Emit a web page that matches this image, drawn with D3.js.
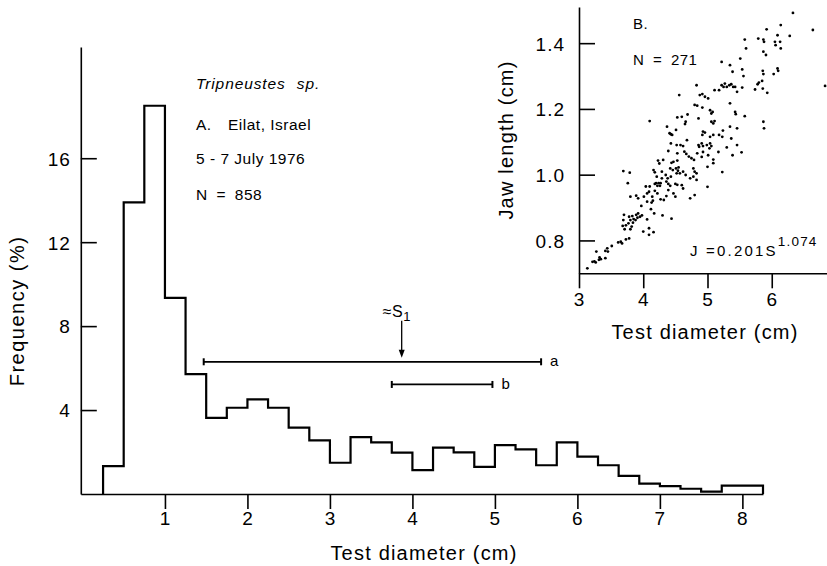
<!DOCTYPE html>
<html>
<head>
<meta charset="utf-8">
<script src="https://cdn.jsdelivr.net/npm/d3@7"></script>
<style>
  body { margin: 0; background: #fff; }
  svg { display: block; font-family: 'Liberation Sans', Arial, sans-serif; }
  .axis path, .axis line { stroke: #000; stroke-width: 1.6; }
  .axis text { font-size: 19px; fill: #000; letter-spacing: 1px; font-family: 'Liberation Sans', Arial, sans-serif; }
  .label { font-size: 20px; letter-spacing: 1.2px; }
  .note { font-size: 15.5px; letter-spacing: 0.5px; }
</style>
</head>
<body>
<div id="chart"></div>
<script>
// A. size frequency histogram (0.25 cm bins)
const binLeft = [0.25, 0.5, 0.75, 1.0, 1.25, 1.5, 1.75, 2.0, 2.25, 2.5, 2.75, 3.0, 3.25, 3.5, 3.75, 4.0,
  4.25, 4.5, 4.75, 5.0, 5.25, 5.5, 5.75, 6.0, 6.25, 6.5, 6.75, 7.0, 7.25, 7.5, 7.75, 8.0];
const freq = [1.33, 13.9, 18.5, 9.35, 5.71, 3.63, 4.11, 4.51, 4.11, 3.16, 2.56, 1.49, 2.71, 2.46, 1.97, 1.14,
  2.21, 1.98, 1.29, 2.33, 2.13, 1.37, 2.46, 1.78, 1.37, 0.86, 0.49, 0.38, 0.25, 0.11, 0.40, 0.40];
const binWidth = 0.25;
const mainXTicks = [1, 2, 3, 4, 5, 6, 7, 8];
const mainYTicks = [4, 8, 12, 16];

// size ranges a and b, S1 marker
const rangeA = [1.47, 5.56];
const rangeB = [3.75, 4.97];
const s1 = 3.87;

// B. jaw length vs test diameter
const testDiam = [
  3.76, 4.04, 4.10, 4.18, 4.20, 4.24, 4.27, 4.22, 4.26, 4.36, 4.39, 4.42, 4.50, 4.53, 3.80, 3.89,
  3.92, 4.01, 4.06, 4.09, 4.14, 4.15, 4.18, 4.22, 4.27, 4.32, 4.36, 4.39, 4.47, 4.50, 3.97, 4.06,
  4.13, 4.12, 4.17, 4.30, 4.44, 3.70, 3.78, 3.83, 3.85, 3.89, 3.92, 3.95, 3.98, 3.69, 3.73, 3.77,
  3.80, 3.84, 3.88, 3.91, 4.06, 3.68, 3.71, 3.80, 3.82, 3.78, 4.00, 4.09, 4.09, 4.16, 3.61, 3.65,
  3.67, 3.73, 3.51, 3.44, 3.41, 3.45, 3.27, 3.32, 3.34, 3.31, 3.41, 3.21, 3.24, 3.26, 3.13,
  4.10, 4.53, 4.60, 4.69, 4.66, 4.65, 4.37, 4.51, 4.41, 4.43, 4.45, 4.86, 4.43, 4.52, 4.58, 4.62,
  4.68, 4.39, 4.53, 4.64, 4.67, 4.71, 4.75, 4.79, 4.86, 4.84, 4.23, 4.31, 4.25, 4.44, 4.47, 4.53,
  3.69, 3.79, 4.16, 4.18, 4.29, 4.42, 4.46, 4.51, 4.54, 4.57, 4.52, 4.55, 4.62, 4.66, 4.78, 4.80,
  4.83, 4.35, 4.21, 4.29, 4.38, 4.43, 4.73, 4.78, 4.83, 4.60, 4.62, 4.73, 4.80, 5.00,
  5.22, 5.35, 5.39, 5.54, 5.56, 4.83, 5.22, 5.27, 5.25, 5.30, 5.34, 5.37, 5.40, 5.43, 5.11, 5.18,
  5.46, 5.54, 4.56, 4.88, 4.92, 4.96, 5.01, 5.35, 4.80, 4.84, 4.92, 5.04, 5.08, 5.06, 5.43, 5.44,
  5.06, 5.09, 5.11, 5.35, 5.46, 4.93, 4.92, 4.96, 5.24, 5.18, 5.23, 5.04, 5.09, 5.37, 4.91, 4.87,
  4.93, 4.99, 5.04, 5.06, 5.03, 5.30, 4.93, 5.01, 5.17, 5.39, 4.91, 5.09, 5.53, 5.23, 5.09, 5.00,
  6.33, 6.64, 6.14, 5.92, 6.09, 6.28, 5.58, 5.79, 5.87, 5.88, 6.05, 6.06, 6.13, 6.14, 5.60, 5.87,
  5.91, 5.51, 5.86, 5.87, 6.09, 6.10, 6.03, 6.83, 5.85, 5.78, 5.80, 5.86, 5.74, 5.93,
  5.58, 5.87, 5.88, 5.46
];
const jawLen = [
  0.974, 0.964, 0.964, 0.972, 0.974, 0.974, 0.974, 0.966, 0.966, 0.979, 0.972, 0.966, 0.972, 0.969, 0.933, 0.936,
  0.928, 0.933, 0.943, 0.948, 0.933, 0.921, 0.951, 0.943, 0.925, 0.923, 0.935, 0.953, 0.943, 0.933, 0.905, 0.918,
  0.915, 0.895, 0.882, 0.876, 0.866, 0.878, 0.872, 0.874, 0.865, 0.878, 0.882, 0.872, 0.876, 0.862, 0.846, 0.852,
  0.862, 0.854, 0.862, 0.869, 0.864, 0.844, 0.834, 0.834, 0.842, 0.806, 0.827, 0.837, 0.817, 0.825, 0.794, 0.796,
  0.791, 0.803, 0.783, 0.776, 0.768, 0.766, 0.766, 0.748, 0.743, 0.741, 0.746, 0.735, 0.736, 0.733, 0.715,
  1.163, 1.174, 1.176, 1.183, 1.161, 1.154, 1.146, 1.136, 1.126, 1.123, 1.121, 1.171, 1.095, 1.090, 1.090, 1.087,
  1.105, 1.072, 1.065, 1.070, 1.063, 1.055, 1.050, 1.045, 1.090, 1.065, 1.043, 1.045, 1.034, 1.036, 1.039, 1.043,
  1.011, 1.006, 1.014, 1.007, 1.009, 1.019, 1.014, 1.019, 1.012, 1.004, 1.004, 1.022, 1.009, 0.999, 1.019, 1.009,
  1.004, 0.999, 0.994, 0.989, 0.989, 0.994, 0.989, 0.994, 0.984, 0.968, 0.958, 0.928, 0.938, 0.963,
  1.343, 1.333, 1.313, 1.320, 1.300, 1.272, 1.272, 1.277, 1.267, 1.267, 1.272, 1.275, 1.267, 1.267, 1.257, 1.257,
  1.252, 1.265, 1.242, 1.242, 1.245, 1.237, 1.232, 1.217, 1.212, 1.210, 1.204, 1.196, 1.191, 1.186, 1.191, 1.184,
  1.161, 1.156, 1.163, 1.146, 1.141, 1.131, 1.121, 1.128, 1.134, 1.121, 1.115, 1.115, 1.121, 1.110, 1.095, 1.085,
  1.087, 1.090, 1.095, 1.087, 1.080, 1.083, 1.069, 1.059, 1.069, 1.059, 1.054, 1.046, 1.068, 1.008, 1.035, 1.024,
  1.492, 1.440, 1.455, 1.442, 1.424, 1.422, 1.411, 1.414, 1.411, 1.404, 1.404, 1.394, 1.404, 1.384, 1.384, 1.374,
  1.364, 1.353, 1.316, 1.306, 1.323, 1.316, 1.306, 1.270, 1.285, 1.275, 1.280, 1.262, 1.259, 1.249,
  1.178, 1.161, 1.141, 1.090
];
const insetXTicks = [3, 4, 5, 6];
const insetYTicks = [0.8, 1.0, 1.2, 1.4];

const width = 827;
const height = 566;

const svg = d3.select('#chart').append('svg')
  .attr('width', width).attr('height', height)
  .attr('viewBox', `0 0 ${width} ${height}`);

function renderHistogram() {
  const x = d3.scaleLinear().domain([-0.02, 8.25]).range([80.8, 763]);
  const y = d3.scaleLinear().domain([0, 21.3]).range([494, 47]);

  const xAxis = d3.axisBottom(x).tickValues(mainXTicks).tickFormat(d3.format('d'))
    .tickSize(15).tickSizeOuter(0).tickPadding(3);
  svg.append('g').attr('class', 'axis').attr('transform', `translate(0,${y(0)})`).call(xAxis);

  const yAxis = d3.axisLeft(y).tickValues(mainYTicks).tickFormat(d3.format('d'))
    .tickSizeInner(-16).tickSizeOuter(0).tickPadding(10);
  const gy = svg.append('g').attr('class', 'axis').attr('transform', `translate(${x(-0.02)},0)`).call(yAxis);
  gy.selectAll('text').attr('dy', '0.36em');

  // step outline
  const pts = [[binLeft[0], 0]];
  binLeft.forEach((b, i) => pts.push([b, freq[i]]));
  const lastEdge = binLeft[binLeft.length - 1] + binWidth;
  pts.push([lastEdge, 0]);
  const step = d3.line().x(d => x(d[0])).y(d => y(d[1])).curve(d3.curveStepAfter);
  svg.append('path').attr('d', step(pts))
    .attr('fill', 'none').attr('stroke', '#000').attr('stroke-width', 2.2);

  // size ranges
  const bars = [
    {range: rangeA, level: 6.3, name: 'a'},
    {range: rangeB, level: 5.22, name: 'b'}
  ];
  bars.forEach(b => {
    const g = svg.append('g').attr('stroke', '#000');
    const yy = y(b.level);
    g.append('line').attr('x1', x(b.range[0])).attr('x2', x(b.range[1]))
      .attr('y1', yy).attr('y2', yy).attr('stroke-width', 1.8);
    b.range.forEach(v => {
      g.append('line').attr('x1', x(v)).attr('x2', x(v))
        .attr('y1', yy - 3.5).attr('y2', yy + 3.5).attr('stroke-width', 2);
    });
    svg.append('text').attr('x', x(b.range[1]) + 9).attr('y', yy + 4.5)
      .attr('font-size', 15).text(b.name);
  });

  // S1 arrow
  const tipY = y(6.3) - 5;
  svg.append('line').attr('x1', x(s1)).attr('x2', x(s1))
    .attr('y1', tipY - 36).attr('y2', tipY - 5).attr('stroke', '#000').attr('stroke-width', 1.3);
  svg.append('path')
    .attr('d', `M${x(s1) - 3},${tipY - 7}L${x(s1) + 3},${tipY - 7}L${x(s1)},${tipY + 1}Z`)
    .attr('fill', '#000');
  const s1t = svg.append('text').attr('x', x(s1) - 19).attr('y', tipY - 40)
    .attr('font-size', 16).style('letter-spacing', '0.5px');
  s1t.append('tspan').text('\u2248S');
  s1t.append('tspan').attr('dy', 4).attr('font-size', 13).text('1');

  // labels
  svg.append('text').attr('class', 'label')
    .attr('x', 424).attr('y', 560).attr('text-anchor', 'middle').text('Test diameter (cm)');
  svg.append('text').attr('class', 'label')
    .attr('transform', 'translate(24,311) rotate(-90)').attr('text-anchor', 'middle')
    .style('letter-spacing', '1.5px').text('Frequency (%)');

  const t = svg.append('text').attr('class', 'note').attr('x', 196).attr('y', 89)
    .attr('font-style', 'italic').style('letter-spacing', '0.9px');
  t.append('tspan').text('Tripneustes');
  t.append('tspan').attr('dx', 11).text('sp.');
  const a = svg.append('text').attr('class', 'note').attr('x', 196).attr('y', 129.5);
  a.append('tspan').text('A.');
  a.append('tspan').attr('x', 228).text('Eilat, Israel');
  svg.append('text').attr('class', 'note').attr('x', 196).attr('y', 163.5).text('5 - 7 July 1976');
  svg.append('text').attr('class', 'note').attr('x', 196).attr('y', 200)
    .style('word-spacing', '4px').text('N = 858');
}

function renderInset() {
  const x = d3.scaleLinear().domain([3, 6.86]).range([579, 827]);
  const y = d3.scaleLinear().domain([0.7, 1.51]).range([273.3, 7]);

  const xAxis = d3.axisBottom(x).tickValues(insetXTicks).tickFormat(d3.format('d'))
    .tickSize(15).tickSizeOuter(0).tickPadding(4);
  svg.append('g').attr('class', 'axis').attr('transform', `translate(0,${y(0.7)})`).call(xAxis);

  const yAxis = d3.axisLeft(y).tickValues(insetYTicks).tickFormat(d3.format('.1f'))
    .tickSizeInner(-16).tickSizeOuter(0).tickPadding(14);
  const gy = svg.append('g').attr('class', 'axis').attr('transform', `translate(${x(3)},0)`).call(yAxis);
  gy.selectAll('text').attr('dy', '0.36em');

  svg.append('g').selectAll('circle').data(testDiam).enter().append('circle')
    .attr('cx', d => x(d)).attr('cy', (d, i) => y(jawLen[i]))
    .attr('r', 1.4).attr('fill', '#000');

  svg.append('text').attr('class', 'label')
    .attr('x', 705).attr('y', 339).attr('text-anchor', 'middle').text('Test diameter (cm)');
  svg.append('text').attr('class', 'label')
    .attr('transform', 'translate(513,140) rotate(-90)').attr('text-anchor', 'middle').text('Jaw length (cm)');

  svg.append('text').attr('class', 'note').style('font-size', '15px').attr('x', 633).attr('y', 29).text('B.');
  svg.append('text').attr('class', 'note').style('font-size', '15px').attr('x', 633).attr('y', 65)
    .style('word-spacing', '4px').text('N = 271');
  const eq = svg.append('text').attr('x', 690).attr('y', 256)
    .style('font-size', '15px').style('letter-spacing', '2.2px');
  eq.append('tspan').text('J =0.201S');
  eq.append('tspan').attr('dy', -10).style('font-size', '13.5px').style('letter-spacing', '1.2px').text('1.074');
}

renderHistogram();
renderInset();
</script>
</body>
</html>
